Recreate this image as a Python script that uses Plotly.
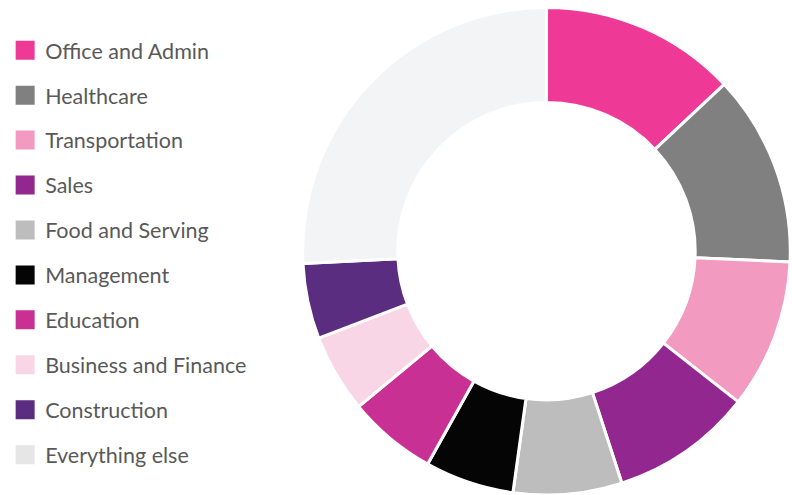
import plotly.graph_objects as go

categories = ["Office and Admin", "Healthcare", "Transportation", "Sales",
              "Food and Serving", "Management", "Education",
              "Business and Finance", "Construction", "Everything else"]
shares = [13.0, 12.7, 9.9, 9.4, 7.2, 5.9, 5.9, 5.2, 5.0, 25.8]
slice_colors = ["#EE3A96", "#808080", "#F39AC1", "#92278F", "#BDBDBD",
                "#050505", "#C83093", "#F9D6E5", "#5A2D80", "#F3F4F6"]
legend_colors = ["#EE3A96", "#808080", "#F39AC1", "#92278F", "#BDBDBD",
                 "#050505", "#C83093", "#F9D6E5", "#5A2D80", "#E6E6E6"]

fig = go.Figure()
fig.add_trace(go.Pie(
    labels=categories, values=shares, sort=False, direction="clockwise",
    rotation=0, hole=0.61, textinfo="none", hoverinfo="label+percent",
    marker=dict(colors=slice_colors, line=dict(color="white", width=3)),
    domain=dict(x=[0.380, 1.0], y=[0.0, 0.985]), showlegend=False,
))
for name, col in zip(categories, legend_colors):
    fig.add_trace(go.Scatter(
        x=[None], y=[None], mode="markers", name=name, legendgroup=name,
        marker=dict(symbol="square", size=16, color=col,
                    line=dict(color=col, width=3)),
    ))

fig.update_layout(
    width=792, height=495,
    margin=dict(l=0, r=0, t=0, b=0),
    paper_bgcolor="white", plot_bgcolor="white",
    xaxis=dict(visible=False), yaxis=dict(visible=False),
    legend=dict(x=0.0065, y=0.94, xanchor="left", yanchor="top",
                font=dict(family="Lato", size=21.5, color="#595959"),
                tracegroupgap=14, itemclick=False),
)
fig.write_html(
    "out.html",
    config={"displayModeBar": False},
    post_script="document.body.style.margin='0';document.body.style.overflow='hidden';",
)
